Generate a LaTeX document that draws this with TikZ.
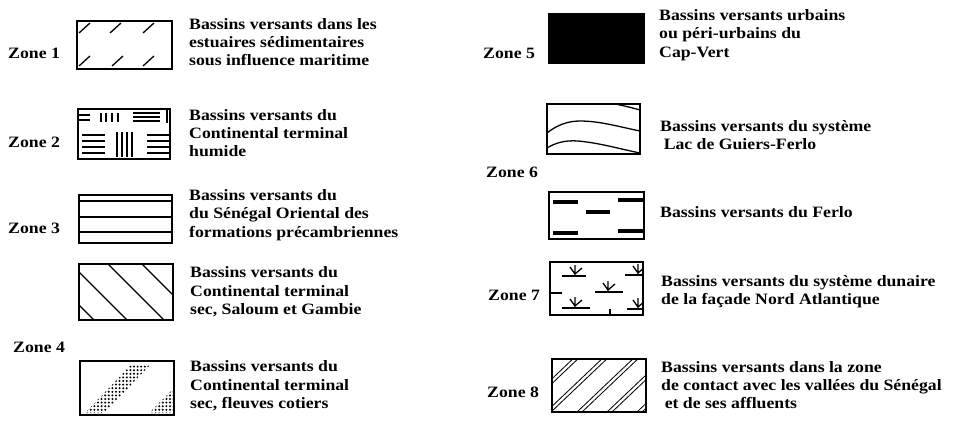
\documentclass[tikz,border=0pt]{standalone}
\usepackage{fontspec}
\setmainfont{Liberation Serif}[FakeStretch=1.12]
\usetikzlibrary{fit}

\newcommand{\zonefont}{\fontsize{13.5}{15.6}\selectfont\bfseries}

\tikzset{
  zonebox/.style = {
    draw=black,
    line width=0.9pt,
    inner sep=0pt
  },
  zonelabel/.style = {
    anchor=west,
    inner sep=0pt,
    font=\zonefont
  },
  legend/.style = {
    anchor=west,
    inner sep=0pt,
    align=left,
    font=\zonefont
  },
  motif/.style = {
    line width=1.1pt
  },
  barre/.style = {
    line width=1.7pt
  },
  tiret/.style = {
    line width=2.6pt
  },
  fin/.style = {
    line width=0.7pt
  }
}

\begin{document}
\begin{tikzpicture}[x=0.03cm, y=-0.03cm]
\useasboundingbox (0,0) rectangle (953,420);

% Zone 1
\node[zonelabel] (z1) at (8,53) {Zone 1};
\node[zonebox, fit={(77,21) (172,69)}] (box1) {};
\node[legend] (t1) at (189,42) {Bassins versants dans les\\estuaires sédimentaires\\sous influence maritime};
\foreach \x/\y in {79/33, 110/33, 143/33, 79/66, 112/66, 143/66}
  \draw[motif] (\x,\y) -- ++(11,-10);

% Zone 2
\node[zonelabel] (z2) at (8,142) {Zone 2};
\node[zonebox, fit={(78,109) (170,159)}] (box2) {};
\node[legend] (t2) at (189,133) {Bassins versants du\\Continental terminal\\humide};
\foreach \y in {115,120}
  \draw[barre] (78,\y) -- (90,\y);
\foreach \x in {101,106,112,118}
  \draw[barre] (\x,113) -- (\x,122);
\foreach \y in {113,117,121}
  \draw[barre] (133,\y) -- (160,\y);
\draw[barre] (167,110) -- (167,123);
\foreach \y in {135,141,147,153} {
  \draw[barre] (82,\y) -- (105,\y);
  \draw[barre] (147,\y) -- (170,\y);
}
\foreach \x in {117,122,127,132}
  \draw[barre] (\x,132) -- (\x,157);

% Zone 3
\node[zonelabel] (z3) at (8,228) {Zone 3};
\node[zonebox, fit={(79,195) (172,243)}] (box3) {};
\node[legend] (t3) at (189,215) {Bassins versants du\\du Sénégal Oriental des\\formations précambriennes};
\draw[barre] (79,201) -- (172,201);
\draw[motif] (79,217) -- (172,217);
\draw[barre] (79,232) -- (172,232);

% Zone 4
\node[zonebox, fit={(79,264) (173,320)}] (box4a) {};
\node[legend] (t4a) at (190,292) {Bassins versants du\\Continental terminal\\sec, Saloum et Gambie};
\begin{scope}
  \clip (box4a.south west) rectangle (box4a.north east);
  \foreach \x in {38,71,108,142}
    \draw[motif] (\x,264) -- ++(60,60);
\end{scope}

\node[zonelabel] (z4) at (13,347) {Zone 4};

\node[zonebox, fit={(80,361) (174,415)}] (box4b) {};
\node[legend] (t4b) at (190,386) {Bassins versants du\\Continental terminal\\sec, fleuves cotiers};
\begin{scope}
  \clip (85,413) -- (132,364) -- (151,364) -- (104,413) -- cycle
        (149,413) -- (174,388) -- (174,413) -- cycle;
  \foreach \i in {0,...,26}
    \foreach \j in {0,...,14}
      \fill (80+\i*3.6, 363+\j*3.6) circle[radius=0.95pt];
\end{scope}

% Zone 5
\node[zonelabel] (z5) at (483,53) {Zone 5};
\node[zonebox, fill=black, fit={(549,14) (644,63)}] (box5) {};
\node[legend] (t5) at (659,35) {Bassins versants urbains\\ou péri-urbains du\\Cap-Vert};

% Zone 6
\node[zonebox, fit={(547,104) (640,154)}] (box6a) {};
\node[legend] (t6a) at (660,135) {Bassins versants du système\\\hspace{3pt}Lac de Guiers-Ferlo};
\begin{scope}
  \clip (box6a.south west) rectangle (box6a.north east);
  \draw[motif] (615,104) .. controls (625,106) and (633,108) .. (640,110);
  \draw[motif] (547,133) .. controls (557,125) and (568,121) .. (580,121)
                         .. controls (600,121) and (620,127) .. (640,131);
  \draw[motif] (547,148) .. controls (555,143) and (565,140) .. (578,141)
                         .. controls (600,143) and (620,149) .. (640,153);
\end{scope}

\node[zonelabel] (z6) at (486,172) {Zone 6};

\node[zonebox, fit={(549,192) (644,239)}] (box6b) {};
\node[legend] (t6b) at (660,212) {Bassins versants du Ferlo};
\foreach \a/\b/\y in {553/578/202, 618/644/200, 586/610/212, 553/578/233, 618/644/231}
  \draw[tiret] (\a,\y) -- (\b,\y);

% Zone 7
\node[zonelabel] (z7) at (488,295) {Zone 7};
\node[zonebox, fit={(550,262) (643,315)}] (box7) {};
\node[legend] (t7) at (661,292) {Bassins versants du système dunaire\\de la façade Nord Atlantique};
\begin{scope}
  \clip (box7.south west) rectangle (box7.north east);
  \foreach \x/\y/\l/\r in {575/276/562/586, 638/275/625/643, 608/292/595/623, 575/308/562/590, 638/309/627/643} {
    \draw[motif] (\l,\y) -- (\r,\y);
    \draw[motif] (\x,\y) -- (\x,\y-11)
                 (\x,\y-2) -- (\x-5,\y-9)
                 (\x,\y-2) -- (\x+7,\y-8);
  }
  \draw[motif] (550,293) -- (562,293);
  \draw[motif] (610,309) -- (610,315);
\end{scope}

% Zone 8
\node[zonelabel] (z8) at (487,392) {Zone 8};
\node[zonebox, fit={(552,359) (646,412)}] (box8) {};
\node[legend] (t8) at (661,385) {Bassins versants dans la zone\\de contact avec les vallées du Sénégal\\\hspace{3pt}et de ses affluents};
\begin{scope}
  \clip (box8.south west) rectangle (box8.north east);
  \foreach \x in {517,546,577,607,637} {
    \draw[fin] (\x,412) -- ++(60,-57);
    \draw[fin] (\x+5,412) -- ++(60,-57);
  }
\end{scope}

\end{tikzpicture}
\end{document}
